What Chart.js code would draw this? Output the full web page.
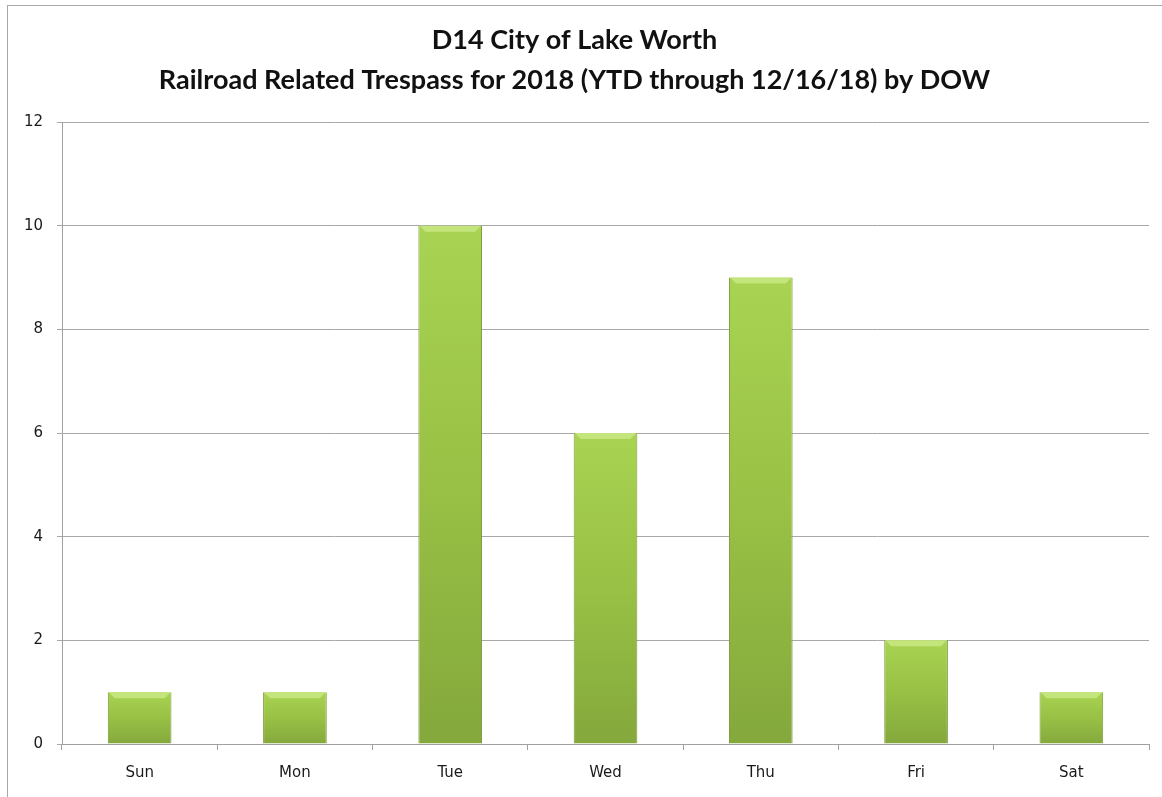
<!DOCTYPE html>
<html>
<head>
<meta charset="utf-8">
<script src="https://cdn.jsdelivr.net/npm/chart.js@4"></script>
<style>
    html, body { margin: 0; padding: 0; background: #fff; }
    #frame { position: absolute; left: 7px; top: 5px; width: 1160px; height: 800px; border-left: 1px solid #a8a8a8; border-top: 1px solid #a8a8a8; }
    #wrap { position: absolute; left: 0; top: 0; width: 1162px; height: 797px; }
</style>
</head>
<body>
<div id="frame"></div>
<div id="wrap"><canvas id="dowChart"></canvas></div>
<script>
const days = ['Sun', 'Mon', 'Tue', 'Wed', 'Thu', 'Fri', 'Sat'];
const trespassCounts = [1, 1, 10, 6, 9, 2, 1];
const titleLines = ['D14 City of Lake Worth', 'Railroad Related Trespass for 2018 (YTD through 12/16/18) by DOW'];

// gradient per bar, from its top down to the zero line
function barFill(context) {
    const chart = context.chart;
    const y = chart.scales.y;
    if (!chart.chartArea || !y || context.parsed === undefined) return '#9bc443';
    const top = y.getPixelForValue(context.parsed.y);
    const base = y.getPixelForValue(0);
    const g = chart.ctx.createLinearGradient(0, top, 0, Math.max(base, top + 1));
    g.addColorStop(0, '#a9d352');
    g.addColorStop(0.5, '#98c145');
    g.addColorStop(1, '#84a83c');
    return g;
}

// small bevel highlight on top of each bar
const bevel = {
    id: 'bevel',
    afterDatasetsDraw(chart) {
        const ctx = chart.ctx;
        chart.getDatasetMeta(0).data.forEach(bar => {
            const p = bar.getProps(['x', 'y', 'width'], true);
            const l = p.x - p.width / 2, r = p.x + p.width / 2, t = p.y;
            ctx.save();
            ctx.fillStyle = '#c4e47c';
            ctx.beginPath();
            ctx.moveTo(l + 1, t);
            ctx.lineTo(r - 1, t);
            ctx.lineTo(r - 7, t + 6);
            ctx.lineTo(l + 7, t + 6);
            ctx.closePath();
            ctx.fill();
            ctx.restore();
        });
    }
};

document.addEventListener('DOMContentLoaded', () => {
    new Chart(document.getElementById('dowChart'), {
        type: 'bar',
        data: {
            labels: days,
            datasets: [{
                label: 'Trespass',
                data: trespassCounts,
                backgroundColor: barFill,
                borderColor: '#7a9a3a',
                borderWidth: { left: 1, right: 1, top: 0, bottom: 0 },
                barPercentage: 0.82,
                categoryPercentage: 0.5
            }]
        },
        options: {
            responsive: true,
            maintainAspectRatio: false,
            animation: false,
            layout: { padding: { left: 0, right: 13, top: 0, bottom: 1 } },
            plugins: {
                legend: { display: false },
                tooltip: { enabled: false },
                title: {
                    display: true,
                    text: titleLines,
                    color: '#111',
                    font: { family: 'Lato', size: 27, weight: 'bold', lineHeight: 1.5 },
                    padding: { top: 20, bottom: 21 }
                }
            },
            scales: {
                x: {
                    grid: { display: true, drawOnChartArea: false, drawTicks: true, tickLength: 6, color: '#a0a0a0' },
                    border: { color: '#a0a0a0', width: 1 },
                    ticks: { color: '#1a1a1a', font: { family: 'DejaVu Sans', size: 15 }, padding: 14 }
                },
                y: {
                    min: 0,
                    max: 12,
                    ticks: { stepSize: 2, color: '#1a1a1a', font: { family: 'DejaVu Sans', size: 15 }, padding: 14 },
                    grid: { color: '#a8a8a8', tickLength: 5 },
                    border: { color: '#a0a0a0', width: 1 },
                    afterFit: scale => { scale.width = 62; }
                }
            }
        },
        plugins: [bevel]
    });
});
</script>
</body>
</html>
